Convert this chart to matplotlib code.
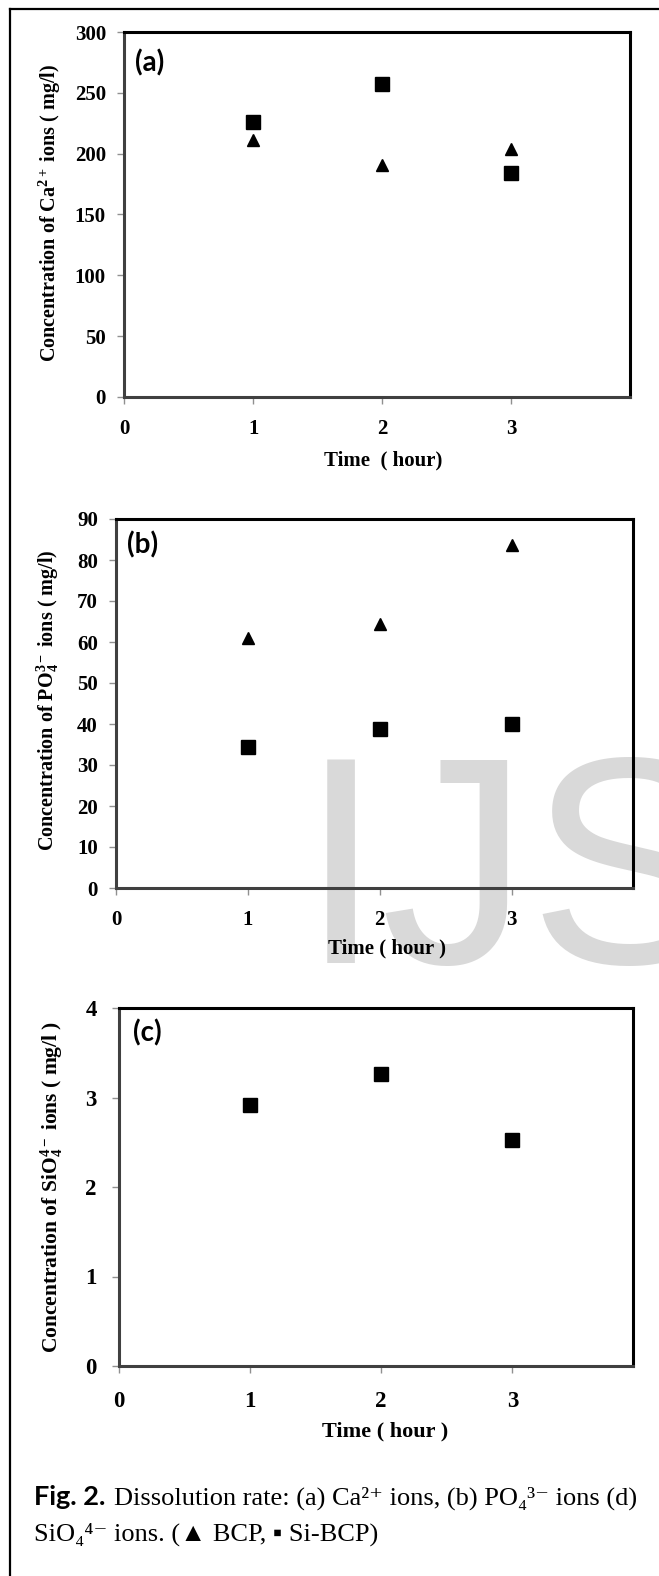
import numpy as np
import matplotlib
matplotlib.use("Agg")
from matplotlib import pyplot as plt
from matplotlib.lines import Line2D

# Daten
hours = [1, 2, 3]

ca_bcp = [211, 191, 204]
ca_sibcp = [226, 257, 184]

po_bcp = [61.0, 64.3, 83.6]
po_sibcp = [34.5, 38.7, 40.0]

si_sibcp = [2.92, 3.26, 2.53]

xticks = [0, 1, 2, 3]

W, H = 659, 1576

plt.rcParams['mathtext.fontset'] = 'custom'
plt.rcParams['mathtext.rm'] = 'Liberation Serif:bold'
plt.rcParams['mathtext.it'] = 'Liberation Serif:bold'
plt.rcParams['mathtext.bf'] = 'Liberation Serif:bold'
plt.rcParams['mathtext.default'] = 'rm'

fig = plt.figure(figsize=(W / 100, H / 100), dpi=100)
fig.patch.set_facecolor('white')


def rect(l, t, r, b):
    # Pixel -> Figurenkoordinaten
    return [l / W, 1 - b / H, (r - l) / W, (b - t) / H]


def panel(box, ylim, yticks, label, xl, yl, tag, tagpos, size=15, xpad=11, ypad=8, lsize=14.5):
    l, t, r, b = box
    ax = fig.add_axes(rect(l, t, r, b))
    ax.set_facecolor('none')
    ax.set_xlim(0, 3.92)
    ax.set_ylim(*ylim)
    ax.set_xticks(xticks)
    ax.set_yticks(yticks)
    for s in ['top', 'right']:
        ax.spines[s].set_color('black')
        ax.spines[s].set_linewidth(2.2)
    for s in ['left', 'bottom']:
        ax.spines[s].set_color('#404040')
        ax.spines[s].set_linewidth(2.2)
    ax.tick_params(direction='out', length=5, width=1, color='#909090')
    ax.tick_params(axis='x', pad=xpad)
    ax.tick_params(axis='y', pad=ypad)
    for tl in ax.get_xticklabels() + ax.get_yticklabels():
        tl.set_family('Liberation Serif')
        tl.set_fontweight('bold')
        tl.set_fontsize(size)
    ax.set_xlabel(xl[0], family='Liberation Serif', fontweight='bold', fontsize=lsize + 0.5)
    ax.xaxis.label.set_va('center')
    ax.xaxis.set_label_coords((xl[1] - l) / (r - l), (b - xl[2]) / (b - t))
    ax.set_ylabel(label, family='Liberation Serif', fontweight='bold', fontsize=lsize)
    ax.yaxis.label.set_va('center')
    ax.yaxis.set_label_coords((yl[0] - l) / (r - l), (b - yl[1]) / (b - t))
    fig.text(tagpos[0] / W, 1 - tagpos[1] / H, tag, family='Lato', fontweight='bold',
             fontsize=20, ha='left', va='center')
    return ax


# (a)
ax1 = panel((124, 32, 630, 397), (0, 300), np.arange(0, 301, 50),
            r'Concentration of Ca$^{2+}$ ions ( mg/l)',
            ('Time  ( hour)', 383, 460), (50, 213), '(a)', (135, 63))
ax1.plot(hours, ca_bcp, linestyle='none', marker='^', ms=9, color='black')
ax1.plot(hours, ca_sibcp, linestyle='none', marker='s', ms=9.5, color='black')

# (b)
ax2 = panel((116, 519, 633, 888), (0, 90), np.arange(0, 91, 10),
            r'Concentration of PO$_4^{3-}$ ions ( mg/l)',
            ('Time ( hour )', 387, 948), (48, 700), '(b)', (127, 545))
ax2.plot(hours, po_bcp, linestyle='none', marker='^', ms=9, color='black')
ax2.plot(hours, po_sibcp, linestyle='none', marker='s', ms=9.5, color='black')

# (c)
ax3 = panel((119, 1008, 633, 1366), (0, 4), np.arange(0, 5, 1),
            r'Concentration of SiO$_4^{4-}$ ions ( mg/l )',
            ('Time ( hour )', 385, 1431), (52, 1187), '(c)', (133, 1033),
            size=16.5, xpad=13, ypad=11, lsize=15.5)
ax3.plot(hours, si_sibcp, linestyle='none', marker='s', ms=10.5, color='black')

# Wasserzeichen
fig.text(300 / W, 1 - 963 / H, 'IJSER', family='Liberation Sans', fontsize=213,
         color='#d9d9d9', ha='left', va='baseline', zorder=-5)

# Rahmen (oben und links sichtbar)
fig.add_artist(Line2D([10 / W, 1.0], [1 - 9 / H, 1 - 9 / H], color='black', lw=1.6))
fig.add_artist(Line2D([10 / W, 10 / W], [1 - 9 / H, 0.0], color='black', lw=1.6))

# Bildunterschrift
fig.text(34 / W, 1 - 1505 / H, 'Fig. 2.', family='Lato', fontweight='bold',
         fontsize=19.5, ha='left', va='baseline')
fig.text(114 / W, 1 - 1505 / H, 'Dissolution rate: (a) Ca²⁺ ions, (b) PO₄³⁻ ions (d)',
         family=['Liberation Serif', 'DejaVu Serif'], fontsize=19, ha='left', va='baseline')
fig.text(34 / W, 1 - 1541 / H, 'SiO₄⁴⁻ ions. (▲ BCP, ▪ Si-BCP)',
         family=['Liberation Serif', 'DejaVu Serif'], fontsize=19, ha='left', va='baseline')

fig.savefig('out.png', dpi=100, facecolor='white')
